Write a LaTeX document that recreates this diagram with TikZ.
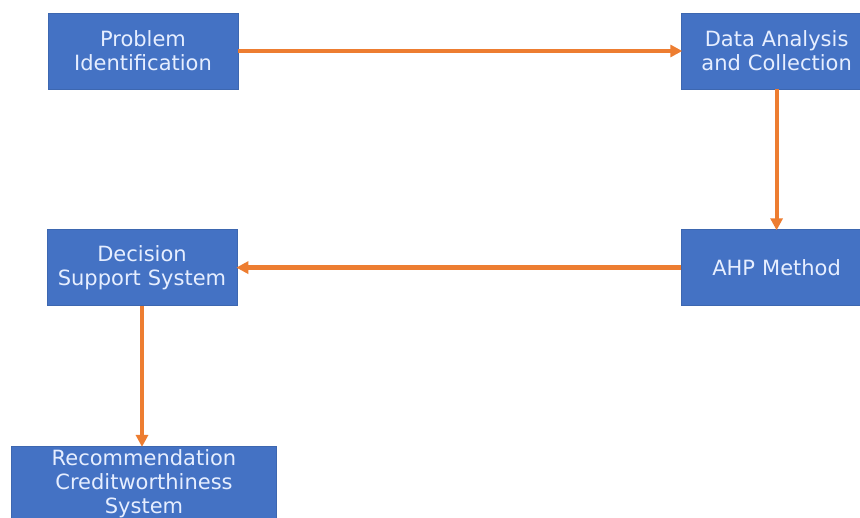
\documentclass[tikz,border=0pt]{standalone}
\usepackage{fontspec}
\setmainfont{DejaVu Sans}
\usetikzlibrary{positioning, arrows.meta}
\definecolor{boxblue}{HTML}{4472C4}
\definecolor{lineorange}{HTML}{ED7D31}
\definecolor{boxtext}{HTML}{E6EEFF}

\begin{document}
\begin{tikzpicture}[x=1pt, y=-1pt, node distance=140pt, auto,
			block/.style={rectangle, fill=boxblue, draw=boxblue!90!black, line width=0.6pt, text=boxtext, text width=190pt, align=center, minimum width=190pt, minimum height=76pt, inner sep=0pt, font=\fontsize{21}{24}\selectfont},
			arrow/.style={-{Triangle[length=12pt, width=12pt]}, line width=4.2pt, lineorange, shorten >=-1pt}]

			\clip (0,0) rectangle (860,518);
			\fill[white] (0,0) rectangle (860,518);

			\node[block] (P1) at (143,51) {Problem\\Identification};
			\node[block, right=443pt of P1] (P2) {Data Analysis\\and Collection};
			\node[block, below=140pt of P2] (P3) {AHP Method};
			\node[block, left=444pt of P3] (P4) {Decision\\Support System};
			\node[block, below=140pt of P4, xshift=2pt, text width=265pt, minimum width=265pt] (P5) {Recommendation\\Creditworthiness\\System};

			\draw[arrow] (P1) -- (P2);
			\draw[arrow] (P2) -- (P3);
			\draw[arrow] (P3) -- (P4);
			\draw[arrow] (P4.south) -- (P4.south |- P5.north);
		\end{tikzpicture}
\end{document}
